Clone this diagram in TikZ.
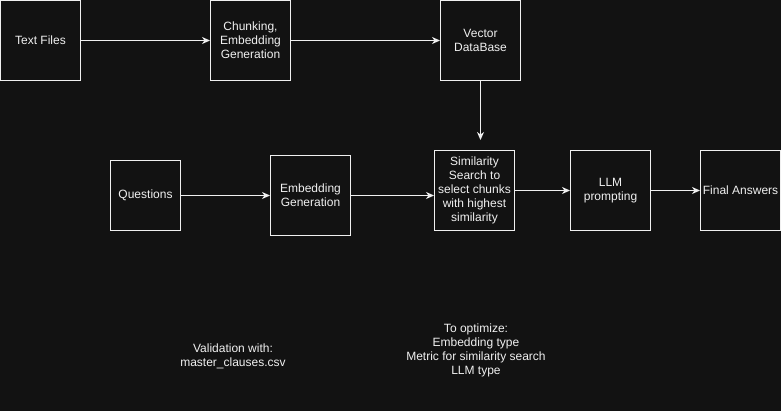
\documentclass[tikz,border=0pt]{standalone}
\usepackage{fontspec}
\setmainfont{Liberation Sans}
\usetikzlibrary{arrows.meta, positioning, calc}
\definecolor{canvas}{RGB}{18, 18, 18}
\definecolor{chalk}{RGB}{240, 240, 240}

\begin{document}
\begin{tikzpicture}[
    x=1pt, y=-1pt,
    blk/.style   = {draw=chalk, fill=canvas, line width=1pt, inner sep=0pt,
                    minimum width=80pt, minimum height=80pt,
                    font=\fontsize{12}{14}\selectfont\color{chalk}, align=center},
    sblk/.style  = {blk, minimum width=70pt, minimum height=70pt},
    arr/.style   = {draw=chalk, line width=1pt, -{Stealth[length=8pt, width=7pt, inset=2.5pt]}},
    note/.style  = {font=\fontsize{12}{14}\selectfont\color{chalk}, align=center},
  ]
    % background
    \fill[canvas] (0,0) rectangle (781,411);
    \useasboundingbox (0,0) rectangle (781,411);

    % --- top row ---
    \node[blk] (txt) at (40.5, 40.5) {Text Files};
    \node[blk] (chk) at (250.5, 40.5) {Chunking,\\Embedding\\Generation};
    \node[blk] (vec) at (480.5, 40.5) {Vector\\DataBase};

    % --- bottom row ---
    \node[sblk] (qst) at (145.5, 195.5) {Questions};
    \node[blk] (emb) at (310.5, 195.5) {Embedding\\Generation};
    \node[blk] (sim) at (474.5, 190.5) {Similarity\\Search to\\select chunks\\with highest\\similarity};
    \node[blk] (llm) at (610.5, 190.5) {LLM\\prompting};
    \node[blk] (ans) at (740.5, 190.5) {Final Answers};

    % --- notes ---
    \node[note] (val) at (233, 356) {Validation with:\\master\_clauses.csv};
    \node[note] (opt) at (476, 350) {To optimize:\\Embedding type\\Metric for similarity search\\LLM type};

    % --- connectors ---
    \draw[arr] (txt) -- (chk);
    \draw[arr] (chk) -- (vec);
    \draw[arr, shorten >=10pt] (vec.south) -- (vec.south |- sim.north);
    \draw[arr] (qst) -- (emb);
    \draw[arr] (emb.east) -- (emb.east -| sim.west);
    \draw[arr] (sim) -- (llm);
    \draw[arr] (llm) -- (ans);

  \end{tikzpicture}
\end{document}
